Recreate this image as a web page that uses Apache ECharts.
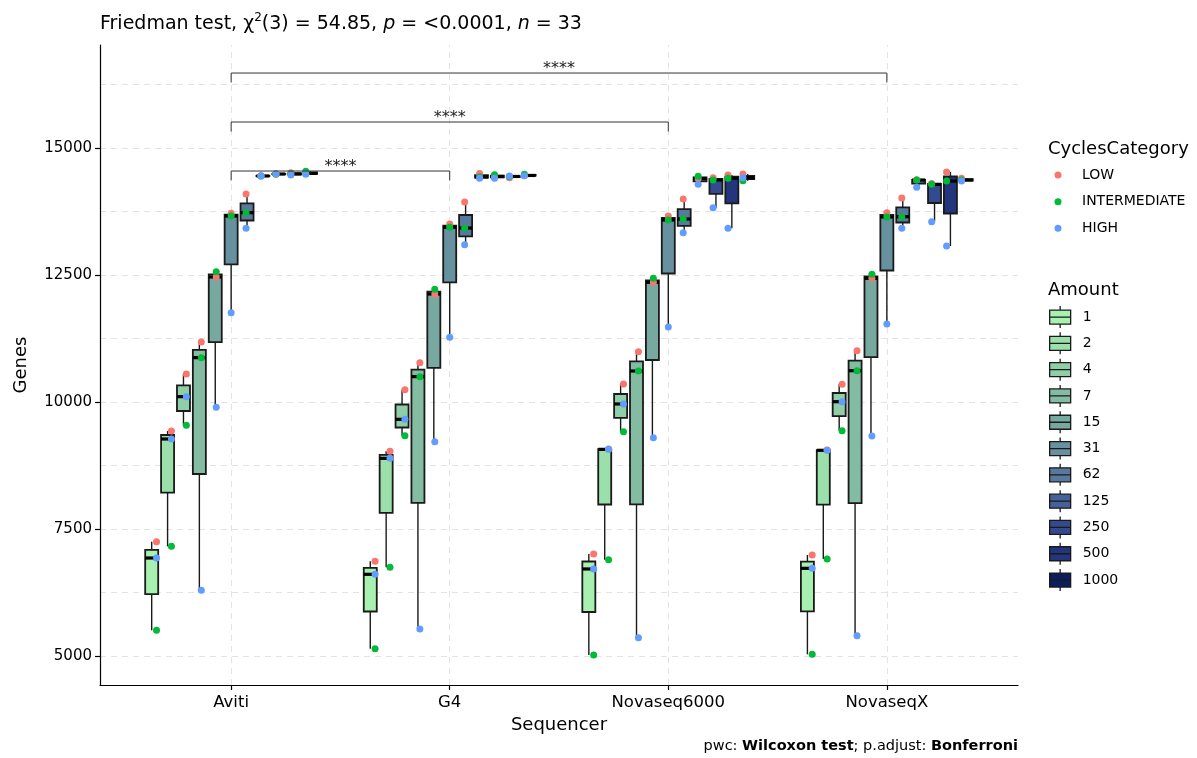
<!DOCTYPE html>
<html><head><meta charset="utf-8">
<script src="https://cdn.jsdelivr.net/npm/echarts@6/dist/echarts.min.js"></script>
<style>html,body{margin:0;padding:0;background:#fff}#c{width:1197px;height:758px}</style>
</head><body><div id="c"></div>
<script>
// ---------------- data ----------------
const sequencers = ['Aviti', 'G4', 'Novaseq6000', 'NovaseqX'];
const amounts = ['1', '2', '4', '7', '15', '31', '62', '125', '250', '500', '1000'];
const cycleCategories = ['LOW', 'INTERMEDIATE', 'HIGH'];

// Genes per amount (same order as `amounts`) for each sequencer and cycle category
const genesLOW = {
  Aviti:       [7250, 9429, 10551, 11181, 12461, 13714, 14094, 14452, 14482, 14514, 14500],
  G4:          [6864, 9029, 10243, 10774, 12126, 13504, 13937, 14500, 14440, 14416, 14460],
  Novaseq6000: [7008, 9075, 10354, 10991, 12356, 13661, 13996, 14400, 14416, 14469, 14488],
  NovaseqX:    [6988, 9055, 10348, 11010, 12435, 13727, 14016, 14375, 14300, 14528, 14404]
};
const genesINTERMEDIATE = {
  Aviti:       [5506, 7159, 9541, 10873, 12565, 13661, 13727, 14450, 14488, 14490, 14541],
  G4:          [5144, 6746, 9337, 10499, 12218, 13439, 13425, 14430, 14475, 14440, 14482],
  Novaseq6000: [5020, 6896, 9416, 10610, 12435, 13583, 13602, 14443, 14370, 14404, 14357],
  NovaseqX:    [5033, 6909, 9435, 10616, 12514, 13642, 13648, 14370, 14285, 14350, 14370]
};
const genesHIGH = {
  Aviti:       [6929, 9272, 10105, 6293, 9895, 11759, 13419, 14447, 14494, 14469, 14482],
  G4:          [6608, 8891, 9659, 5531, 9219, 11273, 13097, 14405, 14404, 14449, 14455],
  Novaseq6000: [6713, 9068, 9961, 5361, 9297, 11476, 13333, 14285, 13825, 13419, 14416],
  NovaseqX:    [6726, 9049, 10006, 5400, 9331, 11535, 13419, 14226, 13550, 13071, 14350]
};
const yTicks = [5000, 7500, 10000, 12500, 15000];

// pairwise comparisons (Wilcoxon, Bonferroni)
const bracketFrom = ['Aviti', 'Aviti', 'Aviti'];
const bracketTo = ['G4', 'Novaseq6000', 'NovaseqX'];
const bracketY = [14547, 15512, 16476];
const bracketLabels = ['****', '****', '****'];

// ---------------- styling ----------------
const FONT = 'DejaVu Sans';
const cycleColors = ['#F8766D', '#00BA38', '#619CFF'];
const amountColors = ['#A8F0B0', '#9BDFAA', '#8FCEA6', '#84BCA3', '#78A9A1', '#68919F',
                      '#58799C', '#46619A', '#344A8E', '#22357D', '#0C1C5E'];
const BOX_STEP = 0.0727;   // dodge step for boxes (category units)
const PT_STEP = 0.0683;    // dodge step for points
const BOX_W = 0.0595;      // box width (category units)
const genesByCycle = [genesLOW, genesINTERMEDIATE, genesHIGH];

function quantile(sorted, p) {
  const h = (sorted.length - 1) * p, lo = Math.floor(h), hi = Math.ceil(h);
  return sorted[lo] + (h - lo) * (sorted[hi] - sorted[lo]);
}

const series = [];

// gridlines (ggplot-like dashed major+minor)
const yGrid = [];
for (let v = yTicks[0]; v <= 16250; v += (yTicks[1] - yTicks[0]) / 2) yGrid.push(v);
series.push({
  type: 'line', data: [], silent: true, z: 0,
  markLine: {
    silent: true, symbol: 'none', label: { show: false }, z: 0,
    lineStyle: { type: [6, 5], color: '#E3E3E3', width: 1 },
    data: yGrid.map(v => ({ yAxis: v })).concat(sequencers.map((s, i) => ({ xAxis: i + 1 })))
  }
});

// boxes
amounts.forEach((amt, ai) => {
  const data = sequencers.map((seq, si) => {
    const vals = genesByCycle.map(g => g[seq][ai]).slice().sort((a, b) => a - b);
    return [si + 1 + (ai - 5) * BOX_STEP, vals[0], quantile(vals, 0.25), quantile(vals, 0.5), quantile(vals, 0.75), vals[vals.length - 1]];
  });
  series.push({
    type: 'custom', name: amt, z: 2,
    itemStyle: { color: amountColors[ai], borderColor: '#1a1a1a', borderWidth: 1.2 },
    encode: { x: 0, y: [1, 2, 3, 4, 5] },
    data: data,
    renderItem: function (params, api) {
      const x = api.value(0);
      const pMin = api.coord([x, api.value(1)]);
      const pQ1 = api.coord([x, api.value(2)]);
      const pMed = api.coord([x, api.value(3)]);
      const pQ3 = api.coord([x, api.value(4)]);
      const pMax = api.coord([x, api.value(5)]);
      const w = api.size([BOX_W, 0])[0];
      const cx = pMed[0];
      const ls = { stroke: '#1a1a1a', lineWidth: 1.4 };
      return {
        type: 'group', children: [
          { type: 'line', shape: { x1: cx, y1: pMin[1], x2: cx, y2: pQ1[1] }, style: ls },
          { type: 'line', shape: { x1: cx, y1: pQ3[1], x2: cx, y2: pMax[1] }, style: ls },
          { type: 'rect', shape: { x: cx - w / 2, y: pQ3[1], width: w, height: pQ1[1] - pQ3[1] },
            style: { fill: api.visual('color'), stroke: '#1a1a1a', lineWidth: 1.8 } },
          { type: 'line', shape: { x1: cx - w / 2, y1: pMed[1], x2: cx + w / 2, y2: pMed[1] },
            style: { stroke: '#000', lineWidth: 3.2 } }
        ]
      };
    }
  });
});

// points
cycleCategories.forEach((cyc, ci) => {
  const data = [];
  sequencers.forEach((seq, si) => {
    amounts.forEach((amt, ai) => {
      data.push([si + 1 + (ai - 5) * PT_STEP, genesByCycle[ci][seq][ai]]);
    });
  });
  series.push({
    type: 'scatter', name: cyc, z: 5, symbol: 'circle', symbolSize: 7,
    itemStyle: { color: cycleColors[ci], opacity: 1 },
    data: data
  });
});

// significance brackets
series.push({
  type: 'custom', name: 'brackets', z: 6, silent: true,
  encode: { x: [0, 1], y: 2 },
  data: bracketFrom.map((f, i) => [sequencers.indexOf(f) + 1, sequencers.indexOf(bracketTo[i]) + 1, bracketY[i], i]),
  renderItem: function (params, api) {
    const p1 = api.coord([api.value(0), api.value(2)]);
    const p2 = api.coord([api.value(1), api.value(2)]);
    const tip = 9.5;
    return {
      type: 'group', children: [
        { type: 'polyline', shape: { points: [[p1[0], p1[1] + tip], [p1[0], p1[1]], [p2[0], p2[1]], [p2[0], p2[1] + tip]] },
          style: { stroke: '#333', lineWidth: 1, fill: null } },
        { type: 'text', style: { x: (p1[0] + p2[0]) / 2, y: p1[1] + 4, text: bracketLabels[api.value(3)],
            fill: '#222', fontSize: 16, fontFamily: FONT, align: 'center', verticalAlign: 'bottom' } }
      ]
    };
  }
});

const chart = echarts.init(document.getElementById('c'), null, { renderer: 'canvas' });
const txt = { fontFamily: FONT, color: '#000', fontWeight: 'normal' };
chart.setOption({
  animation: false,
  backgroundColor: '#fff',
  textStyle: { fontFamily: FONT },
  title: [
    {
      left: 95, top: 7,
      text: '{n|Friedman test, χ}{sup|2}{n|(3) = 54.85, }{i|p}{n| = <0.0001, }{i|n}{n| = 33}',
      textStyle: { fontWeight: 'normal', rich: {
        n: Object.assign({ fontSize: 19, lineHeight: 24 }, txt),
        i: Object.assign({ fontSize: 19, lineHeight: 24, fontStyle: 'italic' }, txt),
        sup: Object.assign({ fontSize: 12, lineHeight: 14, verticalAlign: 'top' }, txt)
      } }
    },
    { left: 1043, top: 135, text: 'CyclesCategory', textStyle: Object.assign({ fontSize: 18 }, txt) },
    { left: 1043, top: 276, text: 'Amount', textStyle: Object.assign({ fontSize: 18 }, txt) },
    {
      right: 179, top: 739, padding: 0,
      text: '{n|pwc: }{b|Wilcoxon test}{n|; p.adjust: }{b|Bonferroni}',
      textStyle: { fontWeight: 'normal', rich: {
        n: Object.assign({ fontSize: 14.5 }, txt),
        b: Object.assign({}, txt, { fontSize: 14.5, fontWeight: 'bold' })
      } }
    }
  ],
  legend: [
    {
      data: cycleCategories, orient: 'vertical', left: 1054.5, top: 161.6, padding: 0,
      icon: 'circle', itemWidth: 7, itemHeight: 7, itemGap: 0,
      itemStyle: { borderWidth: 0 },
      textStyle: Object.assign({ fontSize: 14, lineHeight: 26.7, padding: [0, 0, 0, 15.5] }, txt),
      selectedMode: false
    },
    {
      data: amounts, orient: 'vertical', left: 1049, top: 303.9, padding: 0,
      icon: 'path://M10.5,0V4M0,4H21V18H0ZM0,11H21M10.5,18V22',
      itemWidth: 21, itemHeight: 22, itemGap: 0,
      itemStyle: { borderColor: '#1a1a1a', borderWidth: 1.3 },
      textStyle: Object.assign({ fontSize: 14, lineHeight: 26.3, padding: [0, 0, 0, 7] }, txt),
      selectedMode: false
    }
  ],
  grid: { left: 100, right: 179, top: 45, bottom: 73, containLabel: false, outerBoundsMode: 'none' },
  xAxis: {
    type: 'value', min: 0.4, max: 4.6,
    name: 'Sequencer', nameLocation: 'middle', nameGap: 18,
    nameTextStyle: Object.assign({ fontSize: 18 }, txt),
    axisLine: { show: true, onZero: false, lineStyle: { color: '#000', width: 1.2 } },
    axisTick: { show: true, customValues: [1, 2, 3, 4], length: 5, lineStyle: { color: '#000', width: 1.2 } },
    axisLabel: { customValues: [1, 2, 3, 4], margin: 9, fontSize: 16.5, color: '#000', fontFamily: FONT,
      formatter: v => sequencers[Math.round(v) - 1] },
    splitLine: { show: false }
  },
  yAxis: {
    type: 'value', min: 4429, max: 17028,
    name: 'Genes', nameLocation: 'middle', nameGap: 70,
    nameTextStyle: Object.assign({ fontSize: 18 }, txt),
    axisLine: { show: true, onZero: false, lineStyle: { color: '#000', width: 1.2 } },
    axisTick: { show: true, customValues: yTicks, length: 5, lineStyle: { color: '#000', width: 1.2 } },
    axisLabel: { customValues: yTicks, margin: 8, fontSize: 15, color: '#000', fontFamily: FONT,
      formatter: v => String(v) },
    splitLine: { show: false }
  },
  series: series
});
</script></body></html>
